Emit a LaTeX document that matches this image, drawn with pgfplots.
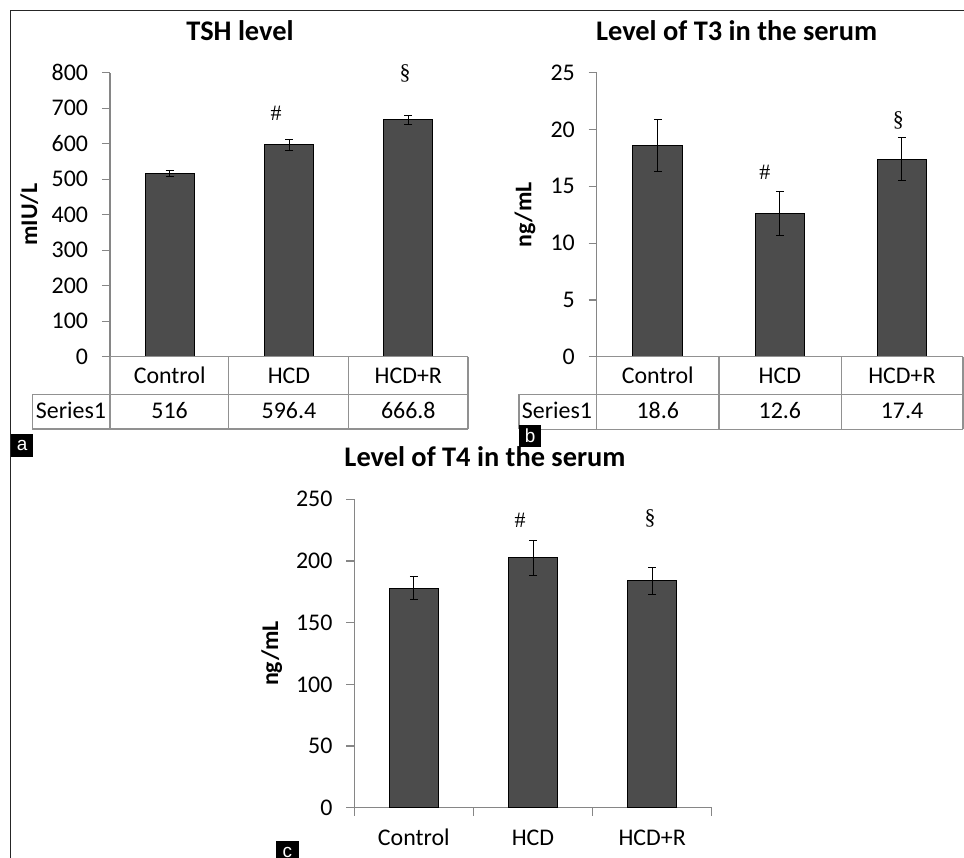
\documentclass[border=0pt]{standalone}
\usepackage{fontspec}
\setmainfont{Carlito}
\newfontfamily\serifsym{Liberation Serif}
\newfontfamily\labfont{Liberation Sans}
\usepackage{pgfplots}
\pgfplotsset{compat=1.18}
\definecolor{axgray}{RGB}{134,134,134}
\definecolor{bargray}{RGB}{76,76,76}
\definecolor{tabgray}{RGB}{145,145,145}
\tikzset{sym/.style={font=\serifsym\fontsize{22}{22}\selectfont, anchor=center, inner sep=0pt}}
\pgfplotsset{
  hormone/.style={
    scale only axis, anchor=south west,
    axis x line=bottom, axis y line=left,
    axis line style={-, draw=axgray, line width=1.2bp},
    xmin=-0.5, xmax=2.5, ymin=0, xtick={0,1,2},
    tick align=outside, major tick length=8bp, minor tick length=8bp,
    tick style={draw=axgray, line width=1.2bp},
    major x tick style={draw=none},
    /pgf/number format/assume math mode=true,
    ticklabel style={font=\fontsize{24}{24}\selectfont},
    yticklabel style={anchor=east, inner sep=0pt, xshift=-13.7bp},
    xticklabel style={anchor=base, inner sep=0pt},
    every axis title shift=0pt,
    title style={anchor=base, font=\bfseries\fontsize{28.5}{30}\selectfont},
    ylabel style={anchor=center, font=\bfseries\fontsize{24}{24}\selectfont},
    clip=false, ybar,
  },
  barstyle/.style={fill=bargray, draw=black, line width=1bp, bar shift=0pt,
    error bars/.cd, y dir=both, y explicit,
    error bar style={black, line width=1bp},
    error mark options={rotate=90, black, line width=1bp, mark size=4bp}},
  tabrow/.style={extra x ticks={0,1,2}, extra x tick style={xticklabel style={yshift=-35.3bp}}},
}
\begin{document}
\begin{tikzpicture}
\path[use as bounding box] (0,0) rectangle (964bp,-858bp);
\draw[line width=1.2bp, black!85] (10.5bp,-858bp) -- (10.5bp,-10.7bp) -- (964bp,-10.7bp);

% ---------- panel a ----------
\begin{axis}[hormone, tabrow, at={(110bp,-356.7bp)}, width=358bp, height=284bp,
  ymax=800, ytick={0,100,...,800}, bar width=49bp,
  title={TSH level}, title style={at={(axis description cs:0.363,1.1127)}},
  ylabel={mIU/L}, ylabel style={at={(axis description cs:-0.2257,0.5)}},
  xticklabels={Control,HCD,HCD+R}, xticklabel style={yshift=-18.3bp},
  extra x tick labels={516,596.4,666.8}]
\addplot[barstyle] coordinates {(0,516) +- (0,9) (1,596.4) +- (0,16) (2,666.8) +- (0,12)};
\node[sym] at (axis cs:0.891,686.5) {\#};
\node[sym] at (axis cs:1.972,799) {\S};
\end{axis}
% table a
\begin{scope}[tabgray, line width=1.3bp]
\draw (110bp,-356.7bp) -- (468bp,-356.7bp);
\draw (32.3bp,-394.3bp) -- (468bp,-394.3bp);
\draw (32.3bp,-429bp) -- (468bp,-429bp);
\draw (32.3bp,-394.3bp) -- (32.3bp,-429bp);
\foreach \x in {110,228.7,348.3,468} \draw (\x bp,-356.7bp) -- (\x bp,-429bp);
\end{scope}
\node[anchor=base, inner sep=0pt, font=\fontsize{24}{24}\selectfont] at (71bp,-418.3bp) {Series1};

% ---------- panel b ----------
\begin{axis}[hormone, tabrow, at={(596.7bp,-356.7bp)}, width=366.3bp, height=284bp,
  ymax=25, ytick={0,5,...,25}, bar width=49.7bp,
  title={Level of T3 in the serum}, title style={at={(axis description cs:0.382,1.1127)}},
  ylabel={ng/mL}, ylabel style={at={(axis description cs:-0.1958,0.5)}},
  xticklabels={Control,HCD,HCD+R}, xticklabel style={yshift=-18.3bp},
  extra x tick labels={18.6,12.6,17.4}]
\addplot[barstyle] coordinates {(0,18.6) +- (0,2.3) (1,12.6) +- (0,1.9) (2,17.4) +- (0,1.9)};
\node[sym] at (axis cs:0.878,16.2) {\#};
\node[sym] at (axis cs:1.970,20.77) {\S};
\end{axis}
% table b
\begin{scope}[tabgray, line width=1.3bp]
\draw (596.7bp,-356.7bp) -- (963bp,-356.7bp);
\draw (519bp,-394.3bp) -- (963bp,-394.3bp);
\draw (519bp,-429.3bp) -- (963bp,-429.3bp);
\draw (519bp,-394.3bp) -- (519bp,-429.3bp);
\foreach \x in {596.7,719,841.7,963} \draw (\x bp,-356.7bp) -- (\x bp,-429.3bp);
\end{scope}
\node[anchor=base, inner sep=0pt, font=\fontsize{24}{24}\selectfont] at (557bp,-418.3bp) {Series1};

% ---------- panel c ----------
\begin{axis}[hormone, at={(354.3bp,-807.7bp)}, width=357.4bp, height=308.4bp,
  ymax=250, ytick={0,50,...,250}, bar width=49bp,
  minor xtick={-0.5,0.5,1.5,2.5},
  title={Level of T4 in the serum}, title style={at={(axis description cs:0.3657,1.108)}},
  ylabel={ng/mL}, ylabel style={at={(axis description cs:-0.2311,0.5)}},
  xticklabels={Control,HCD,HCD+R}, xticklabel style={yshift=-29.3bp}]
\addplot[barstyle] coordinates {(0,178) +- (0,9.4) (1,202.5) +- (0,14) (2,184) +- (0,11)};
\node[sym] at (axis cs:0.891,232.6) {\#};
\node[sym] at (axis cs:1.982,234.6) {\S};
\end{axis}

% panel letters
\node[fill=black, text=white, font=\labfont\fontsize{19}{19}\selectfont, minimum width=21.7bp, minimum height=22.7bp, inner sep=0pt, anchor=north west] at (11bp,-434bp) {a};
\node[fill=black, text=white, font=\labfont\fontsize{19}{19}\selectfont, minimum width=21.7bp, minimum height=22.4bp, inner sep=0pt, anchor=north west] at (519bp,-424.3bp) {b};
\node[fill=black, text=white, font=\labfont\fontsize{19}{19}\selectfont, minimum width=22.5bp, minimum height=22.5bp, inner sep=0pt, anchor=north west] at (276bp,-841bp) {c};
\end{tikzpicture}
\end{document}
